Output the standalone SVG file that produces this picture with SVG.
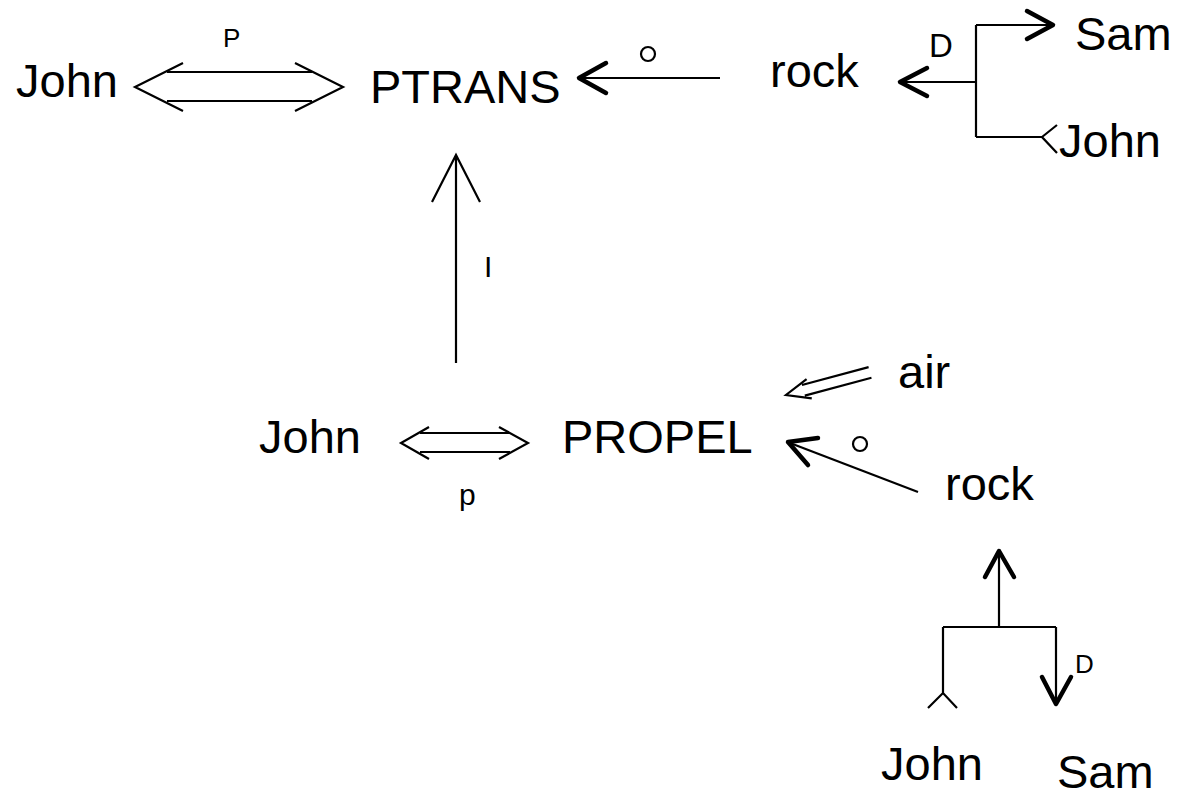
<svg xmlns="http://www.w3.org/2000/svg" width="1180" height="793" viewBox="0 0 1180 793">
<style>
text{font-family:"Liberation Sans",Arial,sans-serif;fill:#000}
.n{font-size:47px}
.l{font-size:28px}
.thin{fill:none;stroke:#000;stroke-width:2.2}
.thick{fill:none;stroke:#000;stroke-width:4.5;stroke-linecap:round;stroke-linejoin:round}
</style>
<rect width="1180" height="793" fill="#fff"/>
<g id="n-john1"><text class="n" x="16" y="97">John</text></g>
<g id="n-ptrans"><text class="n" x="370" y="103">PTRANS</text></g>
<g id="n-rock1"><text class="n" x="770" y="87">rock</text></g>
<g id="n-sam1"><text class="n" x="1075" y="50">Sam</text></g>
<g id="n-john2"><text class="n" x="1059" y="157">John</text></g>
<g id="n-john3"><text class="n" x="259" y="453">John</text></g>
<g id="n-propel"><text class="n" x="562" y="453">PROPEL</text></g>
<g id="n-air"><text class="n" x="898" y="388">air</text></g>
<g id="n-rock2"><text class="n" x="945" y="500">rock</text></g>
<g id="n-john4"><text class="n" x="881" y="780">John</text></g>
<g id="n-sam2"><text class="n" x="1057" y="788">Sam</text></g>
<g id="connectors">
  <!-- John <=> PTRANS -->
  <path class="thin" d="M167 72H312M167 101H312M183 63L135 87L183 111M295 63L343 87L295 111"/>
  <text class="l" x="223" y="47" style="font-size:26px">P</text>
  <!-- rock -> PTRANS (o) -->
  <path class="thin" d="M580 78H720"/>
  <path class="thick" d="M606 63L579 78L606 93"/>
  <circle class="thin" cx="648" cy="54" r="7"/>
  <!-- D branch top -->
  <path class="thin" d="M900 82H976M976 25V137M976 25H1052M976 137H1042"/>
  <path class="thick" d="M900 82"/>
  <path class="thick" d="M927 68L900 82L927 96"/>
  <path class="thick" d="M1027 11L1053 25L1027 39"/>
  <path class="thin" d="M1057 125L1042 137L1057 153"/>
  <text class="l" x="929" y="57" style="font-size:33px">D</text>
  <!-- PROPEL -> PTRANS (I) -->
  <path class="thin" d="M456 363V156M432 202L456 155L480 202"/>
  <text class="l" x="484" y="277" style="font-size:30px">I</text>
  <!-- John <=> PROPEL (p) -->
  <path class="thin" d="M420 433H510M420 452H510M429 427L401 443L429 459M499 427L528 443L499 459"/>
  <text class="l" x="459" y="505" style="font-size:30px">p</text>
  <!-- air => PROPEL -->
  <g transform="translate(786,395) rotate(-15)">
    <path class="thin" d="M18 -5.5H87M18 5.5H87M24 -10L0 0L24 10" stroke-width="2.5"/>
  </g>
  <!-- rock -> PROPEL (o) -->
  <path class="thin" d="M918 492L790 443"/>
  <path class="thick" d="M818 438L788 442L808 465"/>
  <circle class="thin" cx="860" cy="444" r="7"/>
  <!-- D branch bottom -->
  <path class="thin" d="M999 627V552M943 627H1056M943 627V693M928 708L943 693L957 708M1056 627V703"/>
  <path class="thick" d="M985 577L999 551L1014 577"/>
  <path class="thick" d="M1042 677L1056 704L1071 677"/>
  <text class="l" x="1075" y="673" style="font-size:26px">D</text>
</g>
</svg>
